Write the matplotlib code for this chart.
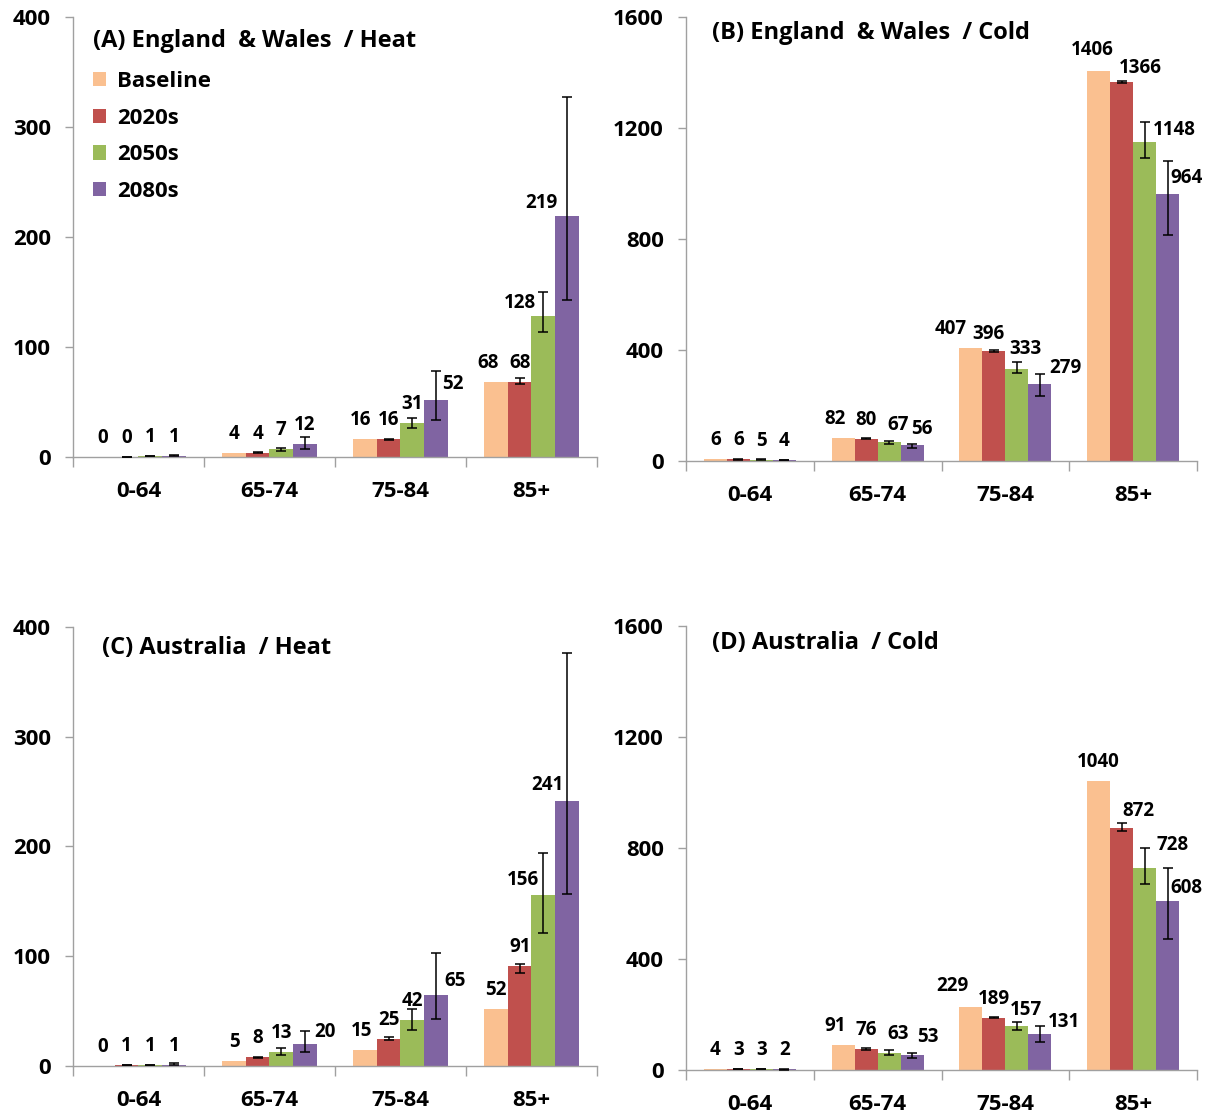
import matplotlib
matplotlib.use('Agg')
import matplotlib.pyplot as plt
import numpy as np

# age groups and scenario names
ages = ['0-64', '65-74', '75-84', '85+']
series = ['Baseline', '2020s', '2050s', '2080s']
colors = ['#FAC090', '#C0504D', '#9BBB59', '#8064A2']

# (A) England & Wales / Heat  -- rows are scenarios, columns are age groups
ew_heat = [[0, 4, 16, 68],
           [0, 4, 16, 68],
           [1, 7, 31, 128],
           [1, 12, 52, 219]]
ew_heat_lo = [[0, 4, 16, 68],
              [0, 3.6, 15.5, 66],
              [0.8, 5.8, 26.7, 114],
              [0.6, 7, 34, 143]]
ew_heat_hi = [[0, 4, 16, 68],
              [0, 4.4, 16.5, 72],
              [1.2, 8.5, 35.5, 150],
              [1.6, 18, 78, 327]]

# (B) England & Wales / Cold
ew_cold = [[6, 82, 407, 1406],
           [6, 80, 396, 1366],
           [5, 67, 333, 1148],
           [4, 56, 279, 964]]
ew_cold_lo = [[6, 82, 407, 1406],
              [5, 78, 393, 1361],
              [4, 61, 318, 1092],
              [3, 46, 235, 814]]
ew_cold_hi = [[6, 82, 407, 1406],
              [7, 82, 399, 1371],
              [6, 73, 358, 1222],
              [5, 61, 313, 1082]]

# (C) Australia / Heat
au_heat = [[0, 5, 15, 52],
           [1, 8, 25, 91],
           [1, 13, 42, 156],
           [1, 20, 65, 241]]
au_heat_lo = [[0, 5, 15, 52],
              [1, 7.6, 24, 85],
              [1, 10, 33, 121],
              [0.5, 13, 43, 157]]
au_heat_hi = [[0, 5, 15, 52],
              [1, 8.4, 26, 93],
              [1, 16, 52, 194],
              [2.5, 32, 103, 376]]

# (D) Australia / Cold
au_cold = [[4, 91, 229, 1040],
           [3, 76, 189, 872],
           [3, 63, 157, 728],
           [2, 53, 131, 608]]
au_cold_lo = [[4, 91, 229, 1040],
              [2, 74, 186, 862],
              [2, 56, 144, 669],
              [1, 42, 100, 471]]
au_cold_hi = [[4, 91, 229, 1040],
              [4, 78, 192, 892],
              [4, 72, 172, 799],
              [3, 62, 157, 728]]

titles = ['(A) England  & Wales  / Heat', '(B) England  & Wales  / Cold',
          '(C) Australia  / Heat', '(D) Australia  / Cold']

plt.rcParams['font.family'] = ['Open Sans', 'DejaVu Sans']
plt.rcParams['font.weight'] = 'bold'

fig = plt.figure(figsize=(12.08, 11.2), dpi=100)

rects = [[0.0604, 0.5920, 0.4338, 0.3929],
         [0.5679, 0.5884, 0.4230, 0.3964],
         [0.0604, 0.0482, 0.4338, 0.3920],
         [0.5679, 0.0446, 0.4230, 0.3964]]
panels = [(ew_heat, ew_heat_lo, ew_heat_hi, 400, 100),
          (ew_cold, ew_cold_lo, ew_cold_hi, 1600, 400),
          (au_heat, au_heat_lo, au_heat_hi, 400, 100),
          (au_cold, au_cold_lo, au_cold_hi, 1600, 400)]
title_pos = [(0.038, 0.945), (0.051, 0.964), (0.055, 0.952), (0.051, 0.962)]

# hand-placed label nudges (pixels: dx, height of label centre above bar top)
nudges = [
    {(0, 3): (-8, 19), (0, 2): (-5, 19), (2, 3): (-23, 13), (3, 3): (-25, 13),
     (3, 2): (17, 16)},
    {(0, 3): (-6, 21), (1, 3): (19, 14), (2, 3): (30, 12), (3, 3): (19, 16),
     (0, 2): (-20, 19), (1, 2): (-5, 17), (2, 2): (9, 20), (3, 2): (26, 16),
     (0, 1): (-8, 19), (2, 1): (9, 17), (3, 1): (10, 16)},
    {(3, 3): (-19, 16), (2, 3): (-20, 15), (3, 2): (19, 14), (0, 2): (-4, 19),
     (3, 1): (20, 12)},
    {(1, 3): (17, 17), (2, 3): (28, 23), (3, 3): (19, 13), (0, 2): (-18, 21),
     (2, 2): (9, 16), (3, 2): (24, 12), (0, 1): (-8, 19), (2, 1): (9, 19),
     (3, 1): (16, 18)},
]

bw = 0.18
x = np.arange(len(ages))

for p in range(4):
    vals, lo, hi, ymax, step = panels[p]
    ax = fig.add_axes(rects[p])
    bars = []
    for i in range(4):
        v = np.array(vals[i], dtype=float)
        l = np.array(lo[i], dtype=float)
        h = np.array(hi[i], dtype=float)
        xs = x + (i - 1.5) * bw
        b = ax.bar(xs, v, bw, color=colors[i], label=series[i], zorder=2)
        bars.append(b)
        if i > 0:
            ax.errorbar(xs, v, yerr=[v - l, h - v], fmt='none', ecolor='black',
                        elinewidth=1.1, capsize=3.5, capthick=1.1, zorder=3)
        for j in range(4):
            dx, dy = nudges[p].get((i, j), (0, 19))
            ax.annotate(str(vals[i][j]), (xs[j], v[j]),
                        xytext=(dx, dy), textcoords='offset pixels',
                        ha='center', va='center', fontsize=13.5, fontweight='bold')

    ax.set_xlim(-0.5, 3.5)
    ax.set_ylim(0, ymax)
    ax.set_yticks(np.arange(0, ymax + 1, step))
    ax.tick_params(axis='y', labelsize=16, length=6, width=1, color='#a0a0a0', pad=10)
    ax.set_xticks(x)
    ax.set_xticklabels(ages, fontsize=16, fontweight='bold')
    ax.set_xticks(np.arange(-0.5, 4.0, 1), minor=True)
    ax.tick_params(axis='x', which='major', length=0, pad=17)
    ax.tick_params(axis='x', which='minor', length=7, width=1, color='#a0a0a0')
    for lab in ax.get_yticklabels():
        lab.set_fontweight('bold')
    for s in ['top', 'right']:
        ax.spines[s].set_visible(False)
    for s in ['left', 'bottom']:
        ax.spines[s].set_color('#a0a0a0')
        ax.spines[s].set_linewidth(1)
    ax.text(title_pos[p][0], title_pos[p][1], titles[p], transform=ax.transAxes,
            fontsize=17, fontweight='bold', ha='left', va='center')

    if p == 0:
        ax.legend(handles=bars, loc='upper left', bbox_to_anchor=(0.0, 0.922),
                  frameon=False, handlelength=0.6, handleheight=0.6,
                  handletextpad=0.5, labelspacing=0.7,
                  prop={'weight': 'bold', 'size': 16})

plt.savefig('out.png', dpi=100)
